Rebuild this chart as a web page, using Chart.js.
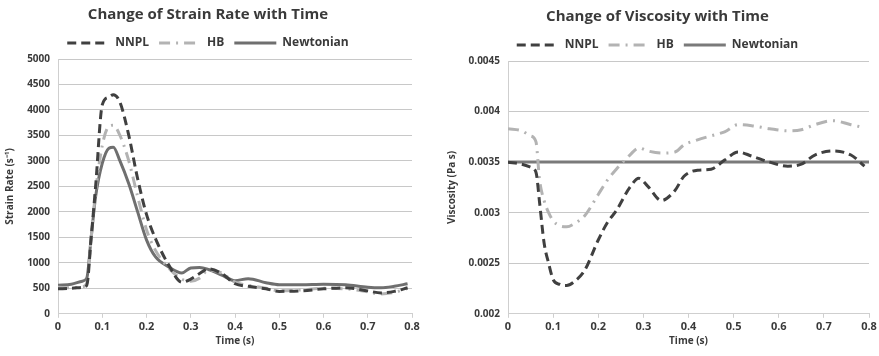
<!DOCTYPE html>
<html>
<head>
<meta charset="utf-8">
<script src="https://cdn.jsdelivr.net/npm/chart.js@4"></script>
<style>
  body { margin: 0; background: #fff; }
  .box { position: absolute; top: 0; height: 356px; }
  #b1 { left: 0; width: 440px; }
  #b2 { left: 440px; width: 439px; }
</style>
</head>
<body>
<div class="box" id="b1"><canvas id="strain"></canvas></div>
<div class="box" id="b2"><canvas id="visc"></canvas></div>
<script>
// strain rate chart
const strainTime = [0, 0.03, 0.055, 0.065, 0.075, 0.085, 0.1, 0.115, 0.125, 0.14, 0.16, 0.18, 0.2, 0.22, 0.25, 0.28, 0.3, 0.32, 0.34, 0.37, 0.4, 0.43, 0.47, 0.5, 0.55, 0.6, 0.65, 0.7, 0.73, 0.76, 0.79];
const strainNNPL = [490, 500, 520, 560, 1500, 2500, 4100, 4250, 4300, 4150, 3500, 2650, 1950, 1480, 960, 620, 680, 790, 880, 790, 590, 540, 490, 440, 450, 490, 510, 450, 410, 440, 510];
const strainHB = [520, 510, 530, 600, 1500, 2400, 3300, 3680, 3700, 3500, 3000, 2300, 1650, 1250, 900, 680, 640, 700, 860, 800, 620, 560, 500, 450, 470, 500, 490, 430, 390, 420, 500];
const strainNewt = [560, 580, 640, 700, 1500, 2300, 2950, 3250, 3270, 3000, 2550, 2000, 1450, 1120, 920, 800, 900, 910, 870, 760, 650, 690, 610, 570, 570, 580, 570, 520, 510, 540, 590];

// viscosity chart
const viscTime = [0, 0.03, 0.05, 0.062, 0.07, 0.08, 0.09, 0.1, 0.115, 0.13, 0.15, 0.17, 0.2, 0.22, 0.24, 0.27, 0.29, 0.31, 0.34, 0.37, 0.39, 0.42, 0.45, 0.48, 0.51, 0.54, 0.58, 0.62, 0.65, 0.68, 0.72, 0.76, 0.79];
const viscNNPL = [0.0035, 0.00348, 0.00345, 0.0034, 0.0031, 0.0027, 0.0025, 0.00234, 0.00229, 0.00228, 0.00233, 0.00243, 0.00273, 0.0029, 0.00302, 0.00325, 0.00334, 0.00326, 0.00312, 0.00322, 0.00336, 0.00342, 0.00343, 0.00352, 0.0036, 0.00356, 0.0035, 0.00346, 0.00348, 0.00357, 0.00361, 0.00357, 0.00346];
const viscHB = [0.00383, 0.00381, 0.00376, 0.0037, 0.00332, 0.00312, 0.003, 0.00292, 0.00287, 0.00286, 0.0029, 0.00297, 0.00318, 0.00332, 0.00343, 0.00357, 0.00364, 0.00361, 0.00359, 0.0036, 0.00367, 0.00372, 0.00376, 0.0038, 0.00387, 0.00386, 0.00383, 0.00381, 0.00382, 0.00387, 0.00391, 0.00387, 0.00384];
const newtTime = [0, 0.8];
const viscNewt = [0.0035, 0.0035];

const xTicks = ['0', '0.1', '0.2', '0.3', '0.4', '0.5', '0.6', '0.7', '0.8'];

var textCol = '#3a3a3a';
var fontFam = "'Open Sans', 'Liberation Sans', sans-serif";

function pts(xs, ys) {
    var out = [];
    for (var i = 0; i < xs.length; i++) out.push({x: xs[i], y: ys[i]});
    return out;
}

function line(label, data, color, dash) {
    return {
        label: label,
        data: data,
        borderColor: color,
        backgroundColor: color,
        borderWidth: 3,
        borderDash: dash,
        pointRadius: 0,
        fill: false,
        cubicInterpolationMode: 'monotone'
    };
}

// legend samples keep the dash of their line
function legendLabels(chart) {
    var items = Chart.defaults.plugins.legend.labels.generateLabels(chart);
    items.forEach(function (it) {
        var ds = chart.data.datasets[it.datasetIndex];
        it.lineDash = ds.borderDash;
        it.strokeStyle = ds.borderColor;
        it.lineWidth = 3;
    });
    return items;
}

function opts(title, ytitle, ymin, ymax, ystep, yfmt, pad, yw) {
    return {
        responsive: true,
        maintainAspectRatio: false,
        animation: false,
        layout: { padding: pad },
        plugins: {
            title: {
                display: true, text: title, color: textCol,
                font: { family: fontFam, size: 15, weight: 'bold' },
                padding: { top: 6, bottom: 3 }
            },
            legend: {
                display: true,
                labels: {
                    color: textCol,
                    font: { family: fontFam, size: 12, weight: 'bold' },
                    usePointStyle: true, pointStyle: 'line', pointStyleWidth: 42,
                    boxHeight: 3, padding: 10,
                    generateLabels: legendLabels
                }
            },
            tooltip: { enabled: false }
        },
        scales: {
            x: {
                type: 'linear', min: 0, max: 0.8,
                border: { color: '#cfcfcf' },
                grid: { drawOnChartArea: false, drawTicks: true, tickLength: 4, color: '#cfcfcf' },
                afterBuildTicks: function (s) {
                    s.ticks = xTicks.map(function (t) { return { value: parseFloat(t) }; });
                },
                ticks: {
                    color: textCol, font: { family: fontFam, size: 11, weight: 'bold' }, padding: 2,
                    maxRotation: 0,
                    callback: function (v, i) { return xTicks[i]; }
                },
                title: { display: true, text: 'Time (s)', color: textCol, padding: 0,
                         font: { family: fontFam, size: 10, weight: 'bold' } }
            },
            y: {
                min: ymin, max: ymax,
                border: { color: '#cfcfcf' },
                grid: { color: '#c8c8c8', drawTicks: false },
                afterFit: function (s) { s.width = yw; },
                ticks: {
                    stepSize: ystep, color: textCol, padding: 8,
                    font: { family: fontFam, size: 10, weight: 'bold' },
                    callback: yfmt
                },
                title: { display: true, text: ytitle, color: textCol, padding: 0,
                         font: { family: fontFam, size: 10, weight: 'bold' } }
            }
        }
    };
}

var ctx1 = document.getElementById('strain').getContext('2d');
var chart1 = new Chart(ctx1, {
    type: 'line',
    data: {
        datasets: [
            line('NNPL', pts(strainTime, strainNNPL), '#404040', [9, 5]),
            line('HB', pts(strainTime, strainHB), '#b3b3b3', [11, 6, 2, 6]),
            line('Newtonian', pts(strainTime, strainNewt), '#6f6f6f', [])
        ]
    },
    options: opts('Change of Strain Rate with Time', 'Strain Rate (s\u207B\u00B9)', 0, 5000, 500,
        function (v) { return String(v); }, { left: 4, right: 28, bottom: 9, top: 0 }, 54)
});

var ctx2 = document.getElementById('visc').getContext('2d');
var chart2 = new Chart(ctx2, {
    type: 'line',
    data: {
        datasets: [
            line('NNPL', pts(viscTime, viscNNPL), '#404040', [9, 5]),
            line('HB', pts(viscTime, viscHB), '#b3b3b3', [11, 6, 2, 6]),
            line('Newtonian', pts(newtTime, viscNewt), '#7a7a7a', [])
        ]
    },
    options: opts('Change of Viscosity with Time', 'Viscosity (Pa s)', 0.002, 0.0045, 0.0005,
        function (v) { return String(parseFloat(v.toFixed(4))); }, { left: 6, right: 10, bottom: 9, top: 2 }, 62)
});
</script>
</body>
</html>
